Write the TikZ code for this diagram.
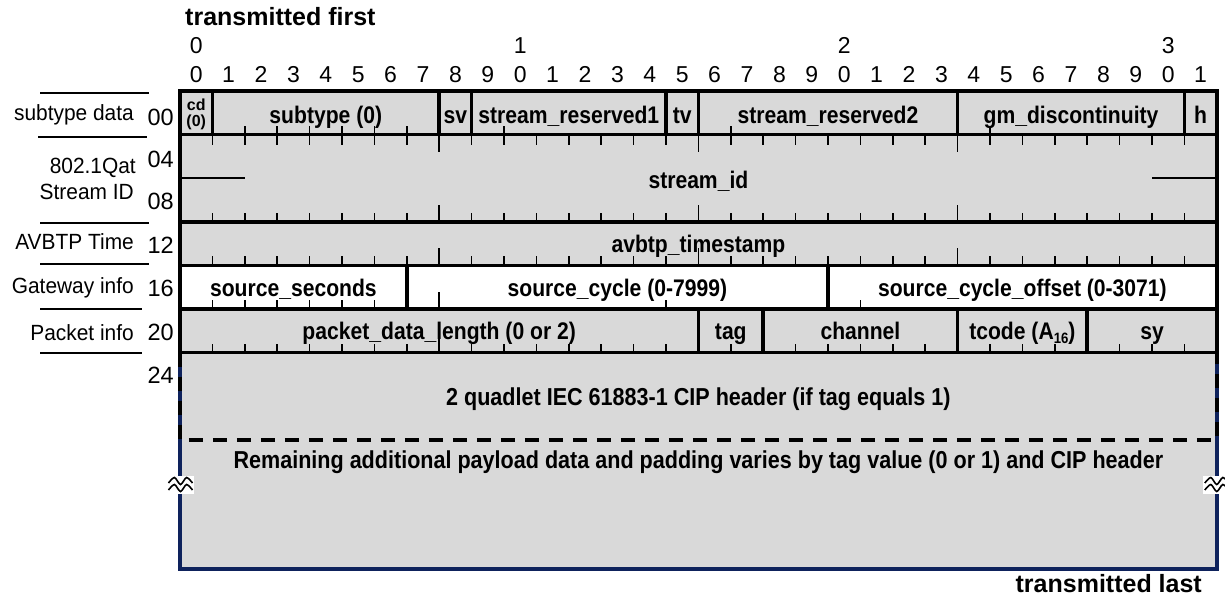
\documentclass[tikz,border=0pt]{standalone}
\usepackage{fontspec}
\setmainfont{Liberation Sans}
\newfontfamily\cond{Liberation Sans}[FakeStretch=0.88]
\newfontfamily\labfont{Liberation Sans}[FakeStretch=0.95]
\definecolor{cellgray}{RGB}{217,217,217}
\definecolor{navyb}{RGB}{14,34,92}
\newcommand\bx[1]{180+(#1)*32.4}
\tikzset{
 thickln/.style={line width=3.6pt, line cap=rect},
 tickln/.style={line width=1.6pt},
 fld/.style={font=\cond\bfseries\fontsize{24}{24}\selectfont, inner sep=0pt, anchor=base},
 bigfld/.style={font=\cond\bfseries\fontsize{24.5}{24.5}\selectfont, inner sep=0pt, anchor=base},
 tiny/.style={font=\bfseries\fontsize{16}{16}\selectfont, inner sep=0pt, anchor=base},
 lbl/.style={font=\labfont\fontsize{22}{24}\selectfont, inner sep=0pt, anchor=base east},
 num/.style={font=\fontsize{23.5}{24}\selectfont, inner sep=0pt, anchor=base east},
 bitno/.style={font=\fontsize{23}{23}\selectfont, inner sep=0pt, anchor=base},
 ttl/.style={font=\bfseries\fontsize{25}{25}\selectfont, inner sep=0pt},
 sideln/.style={line width=1.8pt},
}
\begin{document}
\begin{tikzpicture}[x=1pt,y=-1pt]
\useasboundingbox (0,0) rectangle (1225,603);
% backgrounds
\fill[cellgray] (180,91) rectangle (1216.8,569);
\fill[white] (180,265.4) rectangle (1216.8,309);
% lower variable region
\draw[navyb, line width=3.6pt] (180,352.6) -- (180,569) -- (1216.8,569) -- (1216.8,352.6);
\draw[line width=3.6pt, dash pattern=on 14pt off 10pt] (180,352.6) -- (180,439.8) -- (1216.8,439.8) -- (1216.8,352.6);
% ticks row 00 (bottom, up)
\foreach \b in {2,...,7,10,...,14,17,...,23,25,...,30}
  \draw[tickln] ({\bx{\b}},134.6) -- ++(0,-9);
% ticks row 04 (top, down)
\foreach \b in {1,...,31}{
  \pgfmathsetmacro\L{mod(\b,8)==0 ? 17 : 10}
  \draw[tickln] ({\bx{\b}},134.6) -- ++(0,\L);}
% ticks row 08 and row 12 (bottom, up)
\foreach \yy in {221.8,265.4}{
 \foreach \b in {1,...,31}{
  \pgfmathsetmacro\L{mod(\b,8)==0 ? 17 : 9}
  \draw[tickln] ({\bx{\b}},\yy) -- ++(0,-\L);}}
% ticks row 16
\foreach \b in {1,...,6,8,...,19,21,...,31}{
  \pgfmathsetmacro\L{mod(\b,8)==0 ? 17 : 9}
  \draw[tickln] ({\bx{\b}},309) -- ++(0,-\L);}
% ticks row 20
\foreach \b in {1,...,15,17,19,20,21,22,23,25,26,27,29,30,31}{
  \pgfmathsetmacro\L{mod(\b,8)==0 ? 17 : 9}
  \draw[tickln] ({\bx{\b}},352.6) -- ++(0,-\L);}
% stream id cut lines
\draw[sideln] (180,178.2) -- (245,178.2);
\draw[sideln] (1152,178.2) -- (1216.8,178.2);
% thick grid
\draw[thickln] (180,91) rectangle (1216.8,352.6);
\foreach \yy in {134.6,221.8,265.4,309}
  \draw[thickln] (180,\yy) -- (1216.8,\yy);
\foreach \b in {1,8,9,15,16,24,31}
  \draw[thickln] ({\bx{\b}},91) -- ({\bx{\b}},134.6);
\foreach \b in {7,20}
  \draw[thickln] ({\bx{\b}},265.4) -- ({\bx{\b}},309);
\foreach \b in {16,18,24,28}
  \draw[thickln] ({\bx{\b}},309) -- ({\bx{\b}},352.6);
% break marks
\foreach \cx/\nm in {180.5/wl,1216.8/wr}{
  \fill[white] (\cx-13.5,476) rectangle (\cx+13.5,494);
  \draw[line width=1.6pt] plot[smooth] coordinates {(\cx-12,483) (\cx-6,477.5) (\cx,484.5) (\cx+6,477.5) (\cx+12,483)};
  \draw[line width=1.6pt] plot[smooth] coordinates {(\cx-12,490) (\cx-6,484.5) (\cx,491.5) (\cx+6,484.5) (\cx+12,490)};
  \coordinate (\nm) at (\cx,485);
}
% titles
\node[ttl, anchor=base west] (tfirst) at (185,25) {transmitted first};
\node[ttl, anchor=base east] (tlast) at (1202,592) {transmitted last};
% bit numbers
\foreach \t/\k in {0/0,1/10,2/20,3/30}
  \node[bitno] (t\k) at ({\bx{\k+0.5}},53) {\t};
\foreach \k in {0,...,31}{
  \pgfmathtruncatemacro\d{mod(\k,10)}
  \node[bitno] (u\k) at ({\bx{\k+0.5}},82) {\d};}
% left rules
\draw[sideln] (40,93.3) -- (149,93.3);
\draw[sideln] (38,136.7) -- (147,136.7);
\draw[sideln] (40,222.7) -- (149,222.7);
\draw[sideln] (40,264.3) -- (149,264.3);
\draw[sideln] (40,309.3) -- (142,309.3);
\draw[sideln] (40,352.7) -- (142,352.7);
% left labels
\node[lbl] (lsub) at (134,120.7) {subtype data};
\node[lbl] (lsid1) at (136,173.3) {802.1Qat};
\node[lbl] (lsid2) at (134,199) {Stream ID};
\node[lbl] (ltime) at (134,249) {AVBTP Time};
\node[lbl] (lgw) at (134,293) {Gateway info};
\node[lbl] (lpk) at (134,340.5) {Packet info};
\node[num] (n00) at (174,125) {00};
\node[num] (n04) at (174,167) {04};
\node[num] (n08) at (174,209) {08};
\node[num] (n12) at (174,253) {12};
\node[num] (n16) at (174,296.5) {16};
\node[num] (n20) at (174,340) {20};
\node[num] (n24) at (174,383) {24};
% row 00 fields
\node[tiny] (cd) at ({\bx{0.5}},110.7) {cd};
\node[tiny] (cd0) at ({\bx{0.5}},126) {(0)};
\node[fld] (subtype) at ({\bx{4.5}},123.3) {subtype (0)};
\node[fld] (sv) at ({\bx{8.5}},123.3) {sv};
\node[fld] (sr1) at ({\bx{12}},123.3) {stream\_reserved1};
\node[fld] (tv) at ({\bx{15.5}},123.3) {tv};
\node[fld] (sr2) at ({\bx{20}},123.3) {stream\_reserved2};
\node[fld] (gm) at ({\bx{27.5}},123.3) {gm\_discontinuity};
\node[fld] (h) at ({\bx{31.5}},123.3) {h};
% stream id, timestamp
\node[fld] (sid) at ({\bx{16}},188) {stream\_id};
\node[fld] (ts) at ({\bx{16}},252) {avbtp\_timestamp};
% gateway info
\node[fld] (ss) at ({\bx{3.5}},296) {source\_seconds};
\node[fld] (sc) at ({\bx{13.5}},296) {source\_cycle (0-7999)};
\node[fld] (sco) at ({\bx{26}},296) {source\_cycle\_offset (0-3071)};
% packet info
\node[fld] (pdl) at ({\bx{8}},339.5) {packet\_data\_length (0 or 2)};
\node[fld] (tag) at ({\bx{17}},339.5) {tag};
\node[fld] (ch) at ({\bx{21}},339.5) {channel};
\node[fld] (tc) at ({\bx{26}},339.5) {tcode (A\raisebox{-4pt}{\fontsize{15}{15}\selectfont 16})};
\node[fld] (sy) at ({\bx{30}},339.5) {sy};
% payload
\node[bigfld] (cip) at ({\bx{16}},405) {2 quadlet IEC 61883-1 CIP header (if tag equals 1)};
\node[bigfld] (rem) at ({\bx{16}},468.5) {Remaining additional payload data and padding varies by tag value (0 or 1) and CIP header};
\end{tikzpicture}
\end{document}
